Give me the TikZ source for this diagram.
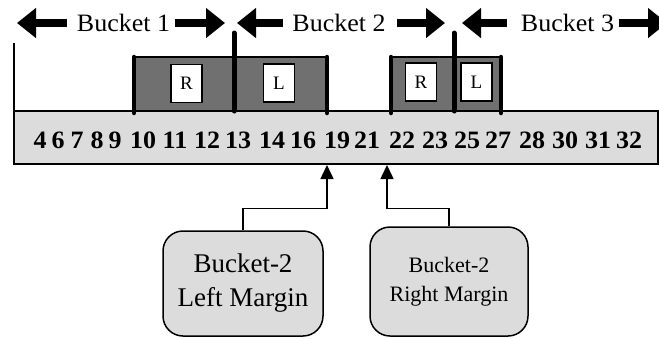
\documentclass[tikz,border=0pt]{standalone}
\usepackage{fontspec}
\setmainfont{Liberation Serif}
\usetikzlibrary{arrows.meta}
\definecolor{barfill}{RGB}{220,220,220}
\definecolor{darkfill}{RGB}{112,112,112}
\tikzset{
  num/.style={font=\fontsize{25}{27}\selectfont\bfseries, xscale=1.04, transform shape, inner sep=0pt},
  letterbox/.style={draw, fill=white, line width=1.2pt, minimum width=31pt, minimum height=38pt, inner sep=0pt, font=\fontsize{19}{21}\selectfont},
  bucketlbl/.style={font=\fontsize{25}{27}\selectfont, xscale=1.04, transform shape, inner sep=0pt},
  blockarrow/.style={line width=8pt, -{Triangle[length=19pt,width=29pt]}},
  thickbar/.style={line width=4.5pt, line cap=round},
  marginbox/.style={draw, fill=barfill, line width=1.5pt, rounded corners=20pt, inner sep=0pt, align=center},
  conn/.style={line width=1.5pt, -{Triangle[length=14pt,width=13pt]}}
}
\begin{document}
\begin{tikzpicture}[x=1pt,y=-1pt]
\useasboundingbox (0,0) rectangle (659,338);

% dark regions
\fill[darkfill] (134,57) rectangle (327,111);
\fill[darkfill] (391,57) rectangle (501,111);
\draw[line width=1.5pt] (134,57) -- (327,57);
\draw[line width=1.5pt] (391,57) -- (501,57);

% main bar
\node[draw, fill=barfill, line width=2pt, minimum width=644pt, minimum height=53pt, inner sep=0pt] (bar) at (335.5,137.5) {};

% left thin mark
\draw[line width=2.5pt] (14,43) -- (14,111);

% thick vertical separators
\draw[thickbar] (134,57) -- (134,113);
\draw[thickbar, line width=5pt] (234,33) -- (234,111);
\draw[thickbar] (327,57) -- (327,113);
\draw[thickbar] (391,57) -- (391,113);
\draw[thickbar, line width=5pt] (454,33) -- (454,111);
\draw[thickbar] (501,57) -- (501,113);

% R / L boxes
\node[letterbox] (r1) at (186.5,83.5) {R};
\node[letterbox] (l1) at (279,83) {L};
\node[letterbox] (r2) at (421,82) {R};
\node[letterbox] (l2) at (476.5,82) {L};

% bucket labels
\node[bucketlbl] (b1) at (123.5,23) {Bucket 1};
\node[bucketlbl] (b2) at (339,23) {Bucket 2};
\node[bucketlbl] (b3) at (567.5,23) {Bucket 3};

% block arrows
\draw[blockarrow] (67,23) -- (17,23);
\draw[blockarrow] (175,23) -- (225,23);
\draw[blockarrow] (283,23) -- (237,23);
\draw[blockarrow] (397,23) -- (445,23);
\draw[blockarrow] (507,23) -- (462,23);
\draw[blockarrow] (619,23) -- (667,23);

% numbers
\foreach \n/\x in {4/40,6/58,7/77,8/97,9/115,10/143,11/175,12/207,13/238,14/272,16/303,19/337,21/367,22/402,23/435,25/467,27/498,28/532,30/565,31/598,32/629}
  \node[num] (n\n) at (\x,140) {\n};

% margin boxes
\node[marginbox, minimum width=160pt, minimum height=105pt, font=\fontsize{27}{34}\selectfont] (lm) at (243,283.5) {Bucket-2\\Left Margin};
\node[marginbox, minimum width=158pt, minimum height=109pt, font=\fontsize{22}{29}\selectfont] (rm) at (449,281.5) {Bucket-2\\Right Margin};

\coordinate (lt) at (327,165);
\coordinate (rt) at (387,165);
\draw[conn] (lm.north) -- ++(0,-22) -| (lt);
\draw[conn] (rm.north) -- ++(0,-18) -| (rt);
\end{tikzpicture}
\end{document}
